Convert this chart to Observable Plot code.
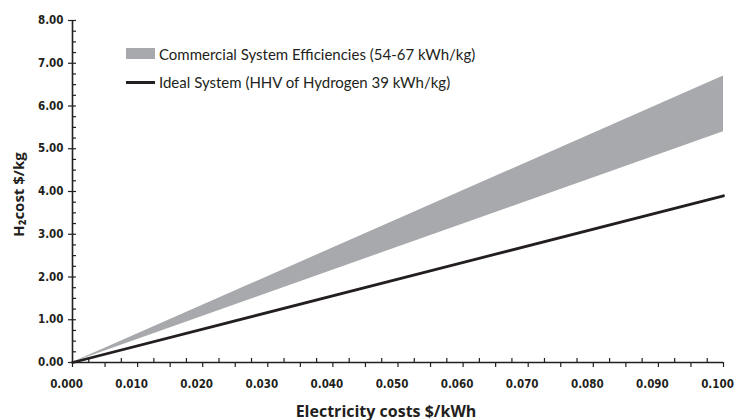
<!DOCTYPE html>
<html>
<head>
<meta charset="utf-8">
<script src="https://cdn.jsdelivr.net/npm/d3@7"></script>
<script src="https://cdn.jsdelivr.net/npm/@observablehq/plot@0.6"></script>
<style>
  html, body { margin: 0; padding: 0; background: #fff; overflow: hidden; }
  #wrap { position: relative; width: 734px; height: 420px; }
  #wrap svg { overflow: visible; }
  .legend { position: absolute; left: 126px; font-family: Lato, "Open Sans", sans-serif; font-size: 15px; color: #231f20; }
  .legend .item { position: absolute; left: 0; white-space: nowrap; display: flex; align-items: center; }
  .legend .sw { display: inline-block; width: 29px; margin-right: 4px; }
</style>
</head>
<body>
<div id="wrap"></div>
<script>
// Electricity cost ($/kWh) at the two ends of the plotted range
const electricity = [0, 0.1];
// Commercial system band: 54 kWh/kg (low) to 67 kWh/kg (high) -> H2 cost $/kg
const commercialLow = [0, 5.4];
const commercialHigh = [0, 6.7];
// Ideal system: HHV of hydrogen 39 kWh/kg -> H2 cost $/kg
const ideal = [0, 3.9];

const xTickLabels = [0, 0.01, 0.02, 0.03, 0.04, 0.05, 0.06, 0.07, 0.08, 0.09, 0.1];
const yTickLabels = [0, 1, 2, 3, 4, 5, 6, 7, 8];

const seriesNames = ["Commercial System Efficiencies (54-67 kWh/kg)", "Ideal System (HHV of Hydrogen 39 kWh/kg)"];
const xTitle = "Electricity costs $/kWh";
const yTitle = "H₂cost $/kg";

const data = electricity.map((x, i) => ({x, low: commercialLow[i], high: commercialHigh[i], ideal: ideal[i]}));

const xMajorTicks = d3.range(0, 0.1001, 0.005);
const xMinorTicks = d3.range(0.0025, 0.1, 0.005);
const yMinorTicks = d3.range(0, 8.001, 0.25);

const ink = "#231f20";
const tickFont = {fontFamily: "'DejaVu Sans Condensed', 'DejaVu Sans', sans-serif", fontSize: 11.5, fontWeight: "bold", fill: ink};
const titleFont = {fontFamily: "'Open Sans', sans-serif", fontWeight: "bold", fill: ink};
const blank = () => "";

const chart = Plot.plot({
  width: 734,
  height: 420,
  marginLeft: 72,
  marginRight: 11,
  marginTop: 20,
  marginBottom: 58,
  style: {fontFamily: "'DejaVu Sans Condensed', 'DejaVu Sans', sans-serif", color: ink, background: "#fff", fontStretch: "condensed", overflow: "visible"},
  x: {domain: [0, 0.1]},
  y: {domain: [0, 8]},
  marks: [
    Plot.areaY(data, {x: "x", y1: "low", y2: "high", fill: "#a7a9ac"}),
    Plot.lineY(data, {x: "x", y: "ideal", stroke: ink, strokeWidth: 2.8}),
    // x axis: labels, outward major ticks, inward minor ticks
    Plot.axisX({ticks: xTickLabels, tickSize: 0, tickPadding: 17, dx: -6, tickFormat: d3.format(".3f"), label: null, ...tickFont}),
    Plot.axisX({ticks: xMajorTicks, tickSize: 5, tickFormat: blank, label: null, stroke: ink, strokeWidth: 1.2}),
    Plot.axisX({ticks: xMinorTicks, tickSize: 4, dy: -4, tickFormat: blank, label: null, stroke: ink, strokeWidth: 1.2}),
    // y axis: labels, crossing major ticks, inward minor ticks
    Plot.axisY({ticks: yTickLabels, tickSize: 4, tickPadding: 5, tickFormat: d3.format(".2f"), label: null, stroke: ink, strokeWidth: 1.2, ...tickFont}),
    Plot.axisY({ticks: yMinorTicks, tickSize: 4, dx: 4, tickFormat: blank, label: null, stroke: ink, strokeWidth: 1.2}),
    Plot.ruleX([0], {stroke: ink, strokeWidth: 1.6}),
    Plot.ruleY([0], {stroke: ink, strokeWidth: 1.6}),
    Plot.text([xTitle], {frameAnchor: "bottom", textAnchor: "middle", dx: -12, dy: 54, lineAnchor: "bottom", fontSize: 16, ...titleFont}),
    Plot.text([yTitle], {frameAnchor: "left", textAnchor: "middle", rotate: -90, dx: -49, dy: 3, lineAnchor: "bottom", fontSize: 15, ...titleFont})
  ]
});

// titles use normal-width letters
d3.select(chart).selectAll("text")
  .filter(function () { return this.textContent === xTitle || this.textContent === yTitle; })
  .style("font-stretch", "normal");

const wrap = document.getElementById("wrap");
wrap.appendChild(chart);

const legend = document.createElement("div");
legend.className = "legend";
legend.style.top = "0px";
const swatches = [
  {name: seriesNames[0], top: 43.5, style: "height: 11px; background: #a7a9ac;"},
  {name: seriesNames[1], top: 72, style: "height: 3px; background: " + ink + ";"}
];
for (const s of swatches) {
  const item = document.createElement("div");
  item.className = "item";
  item.style.top = s.top + "px";
  item.style.height = "20px";
  const sw = document.createElement("span");
  sw.className = "sw";
  sw.setAttribute("style", s.style);
  const label = document.createElement("span");
  label.textContent = s.name;
  item.appendChild(sw);
  item.appendChild(label);
  legend.appendChild(item);
}
wrap.appendChild(legend);
</script>
</body>
</html>
